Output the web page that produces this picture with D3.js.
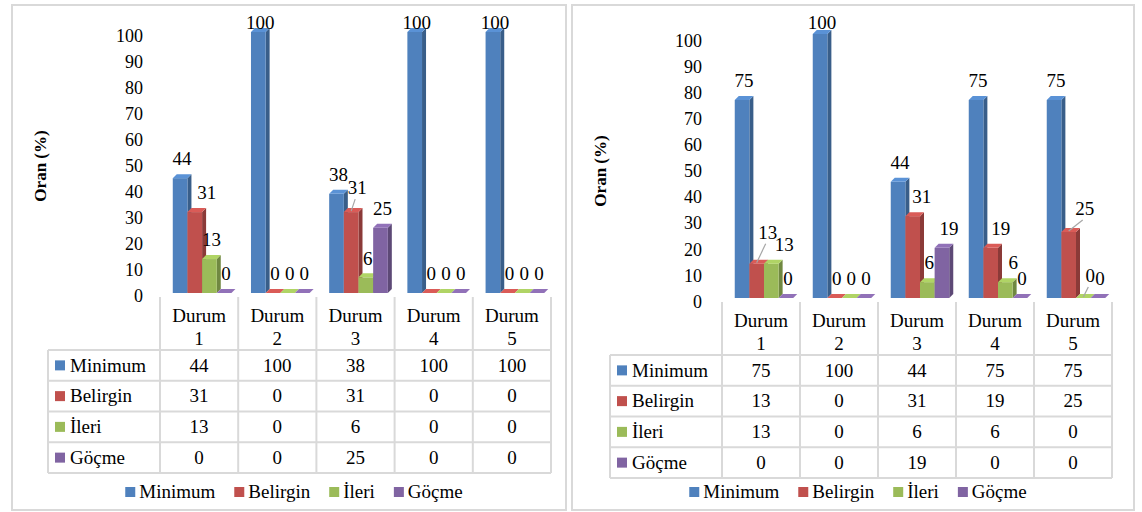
<!DOCTYPE html>
<html>
<head>
<meta charset="utf-8">
<script src="https://cdn.jsdelivr.net/npm/d3@7"></script>
</head>
<body style="margin:0;background:#fff">
<svg id="s" width="1142" height="512" style="display:block"></svg>
<script>
// ---- data ----
const categories = ["Durum 1", "Durum 2", "Durum 3", "Durum 4", "Durum 5"];
const seriesNames = ["Minimum", "Belirgin", "İleri", "Göçme"];
const seriesColors = ["#4F81BD", "#C0504D", "#9BBB59", "#8064A2"];
const yTicks = [0, 10, 20, 30, 40, 50, 60, 70, 80, 90, 100];
const axisTitle = "Oran (%)";

// left chart
const leftMinimum  = [44, 100, 38, 100, 100];
const leftBelirgin = [31, 0, 31, 0, 0];
const leftIleri    = [13, 0, 6, 0, 0];
const leftGocme    = [0, 0, 25, 0, 0];

// right chart
const rightMinimum  = [75, 100, 44, 75, 75];
const rightBelirgin = [13, 0, 31, 19, 25];
const rightIleri    = [13, 0, 6, 6, 0];
const rightGocme    = [0, 0, 19, 0, 0];

// ---- layout ----
const F = "\"Liberation Serif\"";

const panels = [
  {
    id: "left",
    values: [leftMinimum, leftBelirgin, leftIleri, leftGocme],
    frame: { x: 12, y: 5, w: 554, h: 505 },
    plotX: [160, 551], barY: [293, 32], tickY: [296, 36], tickX: 143,
    tableLeft: 48, headerTop: 297, rowTop: 350, rowH: 30.75,
    title: { x: 40, y: 166 }
  },
  {
    id: "right",
    values: [rightMinimum, rightBelirgin, rightIleri, rightGocme],
    frame: { x: 572, y: 5, w: 562, h: 505 },
    plotX: [722, 1112], barY: [298, 34], tickY: [302, 41], tickX: 702,
    tableLeft: 610, headerTop: 302, rowTop: 355, rowH: 30.75,
    title: { x: 600, y: 171 }
  }
];

// label shifts where labels would crowd each other (leader lines drawn for moved ones)
const labelShift = {
  "left|Belirgin|Durum 1":  { dx: 10, dy: 0 },
  "left|Belirgin|Durum 3":  { dx: 4, dy: -5, leader: true },
  "right|Belirgin|Durum 1": { dx: 9, dy: -12, leader: true },
  "right|İleri|Durum 1":    { dx: 11, dy: 0 },
  "right|Belirgin|Durum 3": { dx: 7, dy: 0 },
  "right|Göçme|Durum 3":    { dx: 5, dy: 0 },
  "right|Belirgin|Durum 4": { dx: 8, dy: 0 },
  "right|İleri|Durum 4":    { dx: 6, dy: 0 },
  "right|Belirgin|Durum 5": { dx: 14, dy: -4, leader: true },
  "right|İleri|Durum 5":    { dx: 5, dy: -3, leader: true }
};

const depth = 4;
const gridColor = "#D9D9D9";

const color = d3.scaleOrdinal().domain(seriesNames).range(seriesColors);
const s = d3.select("#s");

panels.forEach(p => {
  const g = s.append("g");

  // outer frame
  g.append("rect")
    .attr("x", p.frame.x).attr("y", p.frame.y)
    .attr("width", p.frame.w).attr("height", p.frame.h)
    .attr("fill", "none").attr("stroke", gridColor).attr("stroke-width", 2);

  const x0 = d3.scaleBand().domain(categories).range(p.plotX);
  const bw = x0.bandwidth();
  const barW = bw * 0.1875;
  const x1 = d3.scaleBand().domain(seriesNames).range([0, barW * 4]);
  const y = d3.scaleLinear().domain([0, 100]).range(p.barY);
  const yTick = d3.scaleLinear().domain([0, 100]).range(p.tickY);

  // value axis labels
  yTicks.forEach(v => {
    g.append("text").attr("x", p.tickX).attr("y", yTick(v)).attr("dy", "0.32em")
      .attr("text-anchor", "end").attr("font-size", 18)
      .style("font-family", F).text(v);
  });

  // axis title
  g.append("text")
    .attr("transform", `translate(${p.title.x},${p.title.y}) rotate(-90)`)
    .attr("text-anchor", "middle").attr("dy", "0.35em")
    .attr("font-size", 17).attr("font-weight", "bold")
    .style("font-family", F)
    .text(axisTitle);

  // bars
  const bars = [];
  categories.forEach((c, ci) => {
    seriesNames.forEach((sn, si) => {
      bars.push({ cat: c, series: sn, value: p.values[si][ci] });
    });
  });

  bars.forEach(d => {
    const bx = x0(d.cat) + bw / 2 - barW * 2 + 3 + x1(d.series);
    const top = y(d.value);
    const base = y(0);
    const col = d3.color(color(d.series));
    // side face
    g.append("path")
      .attr("d", `M${bx + barW},${top} L${bx + barW + depth},${top - depth} L${bx + barW + depth},${base - depth} L${bx + barW},${base} Z`)
      .attr("fill", col.darker(0.9));
    // front face
    g.append("rect")
      .attr("x", bx).attr("y", top)
      .attr("width", barW).attr("height", Math.max(0, base - top))
      .attr("fill", col);
    // top face
    g.append("path")
      .attr("d", `M${bx},${top} L${bx + depth},${top - depth} L${bx + barW + depth},${top - depth} L${bx + barW},${top} Z`)
      .attr("fill", col.brighter(0.35));
  });

  // data labels
  bars.forEach(d => {
    const bx = x0(d.cat) + bw / 2 - barW * 2 + 3 + x1(d.series);
    const top = y(d.value);
    const sh = labelShift[`${p.id}|${d.series}|${d.cat}`] || { dx: 0, dy: 0 };
    const lx = bx + barW / 2 + depth / 2 + sh.dx;
    const ly = Math.max(top - depth - 15, 23) + sh.dy;
    if (sh.leader) {
      g.append("line")
        .attr("x1", bx + barW / 2).attr("y1", top - 1)
        .attr("x2", lx - 2).attr("y2", ly + 11)
        .attr("stroke", "#A6A6A6").attr("stroke-width", 1.2);
    }
    g.append("text")
      .attr("x", lx).attr("y", ly).attr("dy", "0.33em")
      .attr("text-anchor", "middle").attr("font-size", 19)
      .style("font-family", F)
      .text(d.value);
  });

  // data table grid
  const tableBottom = p.rowTop + p.rowH * seriesNames.length;
  categories.concat([null]).forEach((c, i) => {
    const xx = i < categories.length ? x0(c) : p.plotX[1];
    g.append("line").attr("x1", xx).attr("x2", xx)
      .attr("y1", p.headerTop).attr("y2", tableBottom)
      .attr("stroke", gridColor).attr("stroke-width", 2);
  });
  g.append("line").attr("x1", p.tableLeft).attr("x2", p.tableLeft)
    .attr("y1", p.rowTop).attr("y2", tableBottom)
    .attr("stroke", gridColor).attr("stroke-width", 2);
  d3.range(seriesNames.length + 1).forEach(i => {
    const yy = p.rowTop + i * p.rowH;
    g.append("line").attr("x1", p.tableLeft).attr("x2", p.plotX[1])
      .attr("y1", yy).attr("y2", yy)
      .attr("stroke", gridColor).attr("stroke-width", 2);
  });

  // table header
  categories.forEach(c => {
    const [w1, w2] = c.split(" ");
    const cx = x0(c) + bw / 2;
    g.append("text").attr("x", cx).attr("y", p.headerTop + 25)
      .attr("text-anchor", "middle").attr("font-size", 19)
      .style("font-family", F).text(w1);
    g.append("text").attr("x", cx).attr("y", p.headerTop + 48)
      .attr("text-anchor", "middle").attr("font-size", 19)
      .style("font-family", F).text(w2);
  });

  // table rows
  seriesNames.forEach((sn, si) => {
    const cy = p.rowTop + p.rowH * (si + 0.5);
    g.append("rect").attr("x", p.tableLeft + 7).attr("y", cy - 5)
      .attr("width", 10).attr("height", 10).attr("fill", color(sn));
    g.append("text").attr("x", p.tableLeft + 22).attr("y", cy).attr("dy", "0.33em")
      .attr("font-size", 19).style("font-family", F).text(sn);
    categories.forEach((c, ci) => {
      g.append("text").attr("x", x0(c) + bw / 2).attr("y", cy).attr("dy", "0.33em")
        .attr("text-anchor", "middle").attr("font-size", 19)
        .style("font-family", F)
        .text(p.values[si][ci]);
    });
  });

  // legend
  const lg = g.append("g");
  let cursor = 0;
  seriesNames.forEach((sn, si) => {
    lg.append("rect").attr("x", cursor).attr("y", 492 - 5)
      .attr("width", 10).attr("height", 10).attr("fill", color(sn));
    const t = lg.append("text").attr("x", cursor + 14).attr("y", 492).attr("dy", "0.33em")
      .attr("font-size", 19).style("font-family", F).text(sn);
    cursor += 14 + t.node().getComputedTextLength() + (si < seriesNames.length - 1 ? 19 : 0);
  });
  const center = p.frame.x + p.frame.w / 2 + 5;
  lg.attr("transform", `translate(${center - cursor / 2},0)`);
});
</script>
</body>
</html>
